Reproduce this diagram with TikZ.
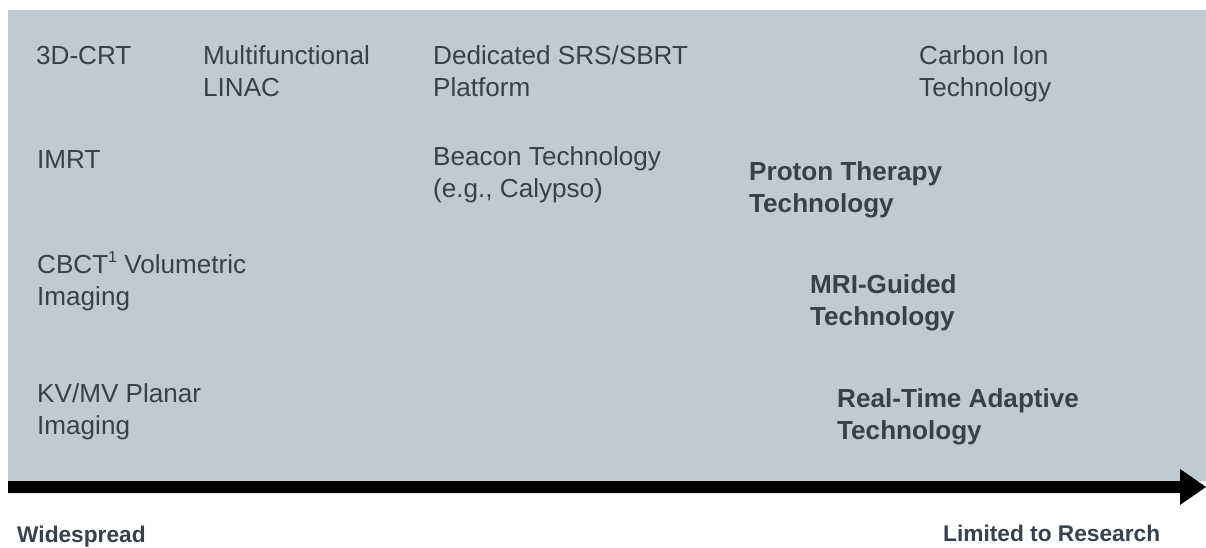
\documentclass[tikz,border=0pt]{standalone}
\usepackage{fontspec}
\setmainfont{Liberation Sans}
\definecolor{panel}{HTML}{BFCAD1}
\definecolor{ink}{HTML}{36414C}
\newcommand\twolines[2]{\vtop{\hbox{#1}\hbox{#2}}}
\newcommand\supone{\raisebox{0.42em}{\fontsize{16}{16}\selectfont 1}}
\tikzset{
  lbl/.style={anchor=base west, inner sep=0pt, text=ink, font=\fontsize{26.1}{32}\selectfont},
  blbl/.style={lbl, font=\fontsize{26.1}{32.5}\selectfont\bfseries},
  endlbl/.style={anchor=base west, inner sep=0pt, text=ink, font=\fontsize{22.7}{27}\selectfont\bfseries},
}
\begin{document}
\begin{tikzpicture}[x=1pt,y=-1pt]
\useasboundingbox (0,0) rectangle (1206,548);
\fill[panel] (8,10) rectangle (1206,481);
% axis arrow
\coordinate (axstart) at (8,481);
\coordinate (axend) at (1206,487);
\fill[black] (axstart) -- (1180,481) -- (1180,469) -- (axend) -- (1180,505) -- (1180,493) -- (8,493) -- cycle;
% labels
\node[lbl] (crt) at (36,65) {3D-CRT};
\node[lbl] (linac) at (203,65) {\twolines{Multifunctional}{LINAC}};
\node[lbl] (srs) at (433,65) {\twolines{Dedicated SRS/SBRT}{Platform}};
\node[lbl] (carbon) at (919,65) {\twolines{Carbon Ion}{Technology}};
\node[lbl] (imrt) at (37,169) {IMRT};
\node[lbl] (beacon) at (433,166) {\twolines{Beacon Technology}{(e.g., Calypso)}};
\node[blbl] (proton) at (749,180) {\twolines{Proton Therapy}{Technology}};
\node[lbl] (cbct) at (37,273) {\twolines{CBCT\supone\ Volumetric}{Imaging}};
\node[blbl] (mri) at (810,293) {\twolines{MRI-Guided}{Technology}};
\node[lbl] (kv) at (37,402) {\twolines{KV/MV Planar}{Imaging}};
\node[blbl] (rt) at (837,407) {\twolines{Real-Time Adaptive}{Technology}};
\node[endlbl] (wide) at (17,542) {Widespread};
\node[endlbl] (limited) at (943,541) {Limited to Research};
\end{tikzpicture}
\end{document}
